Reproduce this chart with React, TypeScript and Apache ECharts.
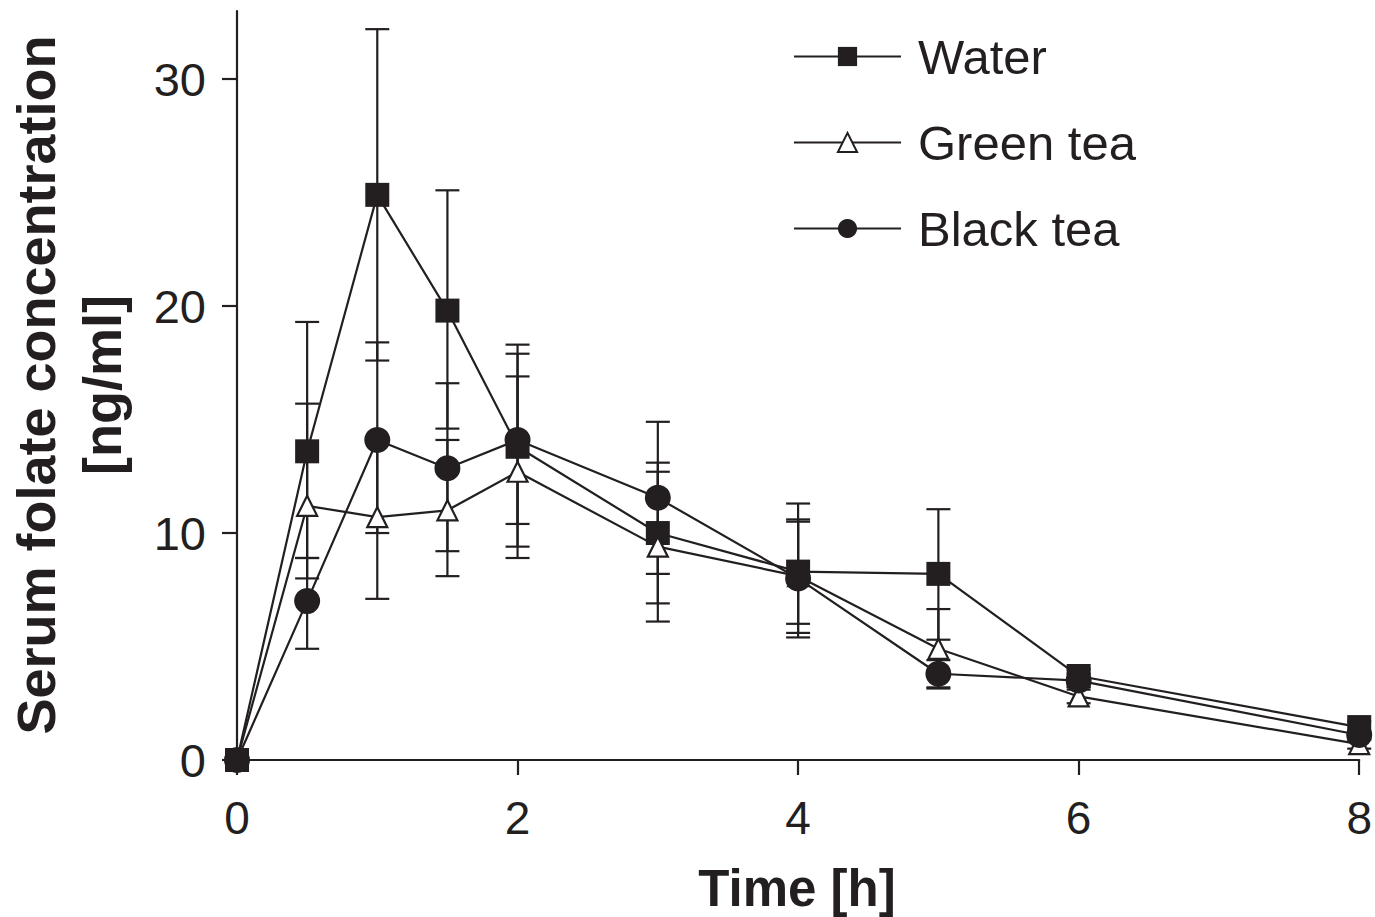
import React, { useEffect, useRef } from "react";
import * as echarts from "echarts";

const times = [0, 0.5, 1, 1.5, 2, 3, 4, 5, 6, 8];
const water = [0, 13.6, 24.9, 19.8, 13.8, 10.0, 8.3, 8.2, 3.7, 1.45];
const waterLow = [0, 8.0, 17.6, 14.6, 9.4, 6.9, 5.4, 5.3, 3.4, 1.2];
const waterHigh = [0, 19.3, 32.2, 25.1, 17.9, 13.1, 11.3, 11.05, 4.0, 1.7];
const green = [0, 11.2, 10.7, 11.0, 12.7, 9.4, 8.1, 4.9, 2.8, 0.7];
const greenLow = [0, 8.9, 7.1, 8.1, 8.9, 6.1, 6.0, 3.15, 2.5, 0.5];
const greenHigh = [0, 15.7, 14.2, 14.1, 16.9, 12.7, 10.5, 6.65, 3.1, 0.9];
const black = [0, 7.0, 14.1, 12.85, 14.1, 11.55, 8.0, 3.8, 3.5, 1.1];
const blackLow = [0, 4.9, 10.0, 9.2, 10.4, 8.2, 5.6, 3.2, 3.2, 0.9];
const blackHigh = [0, 8.9, 18.4, 16.6, 18.3, 14.9, 10.6, 4.4, 3.8, 1.3];
const xTicks = [0, 2, 4, 6, 8];
const yTicks = [0, 10, 20, 30];

const FONT = "Liberation Sans, Arial, Helvetica, sans-serif";
const INK = "#231f20";

function errSeries(name: string, low: number[], high: number[]) {
  return {
    type: "custom",
    name: name + " err",
    z: 1,
    silent: true,
    data: times.map((t, i) => [t, low[i], high[i]]),
    encode: { x: 0, y: [1, 2] },
    renderItem: (params: any, api: any) => {
      const x = api.value(0);
      const lo = api.coord([x, api.value(1)]);
      const hi = api.coord([x, api.value(2)]);
      const w = 12;
      const style = { stroke: INK, lineWidth: 2.2, fill: "none" };
      return {
        type: "group",
        children: [
          { type: "line", shape: { x1: lo[0], y1: lo[1], x2: hi[0], y2: hi[1] }, style },
          { type: "line", shape: { x1: lo[0] - w, y1: lo[1], x2: lo[0] + w, y2: lo[1] }, style },
          { type: "line", shape: { x1: hi[0] - w, y1: hi[1], x2: hi[0] + w, y2: hi[1] }, style },
        ],
      };
    },
  };
}

function lineSeries(name: string, vals: number[], symbol: string, size: number, fill: string) {
  return {
    type: "line",
    name,
    z: 3,
    data: times.map((t, i) => [t, vals[i]]),
    symbol,
    symbolSize: size,
    showAllSymbol: true,
    lineStyle: { color: INK, width: 2.2 },
    itemStyle: { color: fill, borderColor: INK, borderWidth: fill === "#ffffff" ? 2.2 : 0 },
  };
}

export default function App() {
  const ref = useRef<HTMLDivElement>(null);
  useEffect(() => {
    if (!ref.current) return;
    const chart = echarts.init(ref.current, undefined, { renderer: "svg" });
    chart.setOption({
      animation: false,
      backgroundColor: "#ffffff",
      grid: { left: 237, right: 15, top: 11, bottom: 157 },
      xAxis: {
        type: "value",
        min: 0,
        max: 8,
        interval: 2,
        splitLine: { show: false },
        axisLine: { lineStyle: { color: INK, width: 2.2 } },
        axisTick: { show: true, length: 15, lineStyle: { color: INK, width: 2.2 } },
        axisLabel: {
          color: INK,
          fontSize: 46,
          fontFamily: FONT,
          margin: 35,
          customValues: xTicks,
        },
      },
      yAxis: {
        type: "value",
        min: 0,
        max: 33,
        splitLine: { show: false },
        axisLine: { show: true, lineStyle: { color: INK, width: 2.2 } },
        axisTick: { show: true, length: 15, customValues: yTicks, lineStyle: { color: INK, width: 2.2 } },
        axisLabel: {
          color: INK,
          fontSize: 47,
          fontFamily: FONT,
          margin: 31,
          customValues: yTicks,
        },
      },
      legend: {
        orient: "vertical",
        left: 788,
        top: 27,
        itemWidth: 107,
        itemHeight: 24,
        itemGap: 37,
        selectedMode: false,
        data: ["Water", "Green tea", "Black tea"],
        textStyle: { color: INK, fontSize: 49, fontFamily: FONT, padding: [0, 0, 0, 12] },
      },
      graphic: [
        {
          type: "text",
          x: 36,
          y: 385,
          rotation: Math.PI / 2,
          style: {
            text: "Serum folate concentration",
            font: `bold 54px ${FONT}`,
            fill: INK,
            align: "center",
            verticalAlign: "middle",
          },
        },
        {
          type: "text",
          x: 102,
          y: 385,
          rotation: Math.PI / 2,
          style: {
            text: "[ng/ml]",
            font: `bold 54px ${FONT}`,
            fill: INK,
            align: "center",
            verticalAlign: "middle",
          },
        },
        {
          type: "text",
          x: 797,
          y: 888,
          style: {
            text: "Time [h]",
            font: `bold 51px ${FONT}`,
            fill: INK,
            align: "center",
            verticalAlign: "middle",
          },
        },
      ],
      series: [
        errSeries("Water", waterLow, waterHigh),
        errSeries("Green tea", greenLow, greenHigh),
        errSeries("Black tea", blackLow, blackHigh),
        lineSeries("Water", water, "rect", 24, INK),
        lineSeries("Green tea", green, "triangle", 20, "#ffffff"),
        lineSeries("Black tea", black, "circle", 26, INK),
      ],
    });
    return () => chart.dispose();
  }, []);
  return (
    <div
      ref={ref}
      style={{ position: "absolute", left: 0, top: 0, width: 1375, height: 917, background: "#fff" }}
    />
  );
}
